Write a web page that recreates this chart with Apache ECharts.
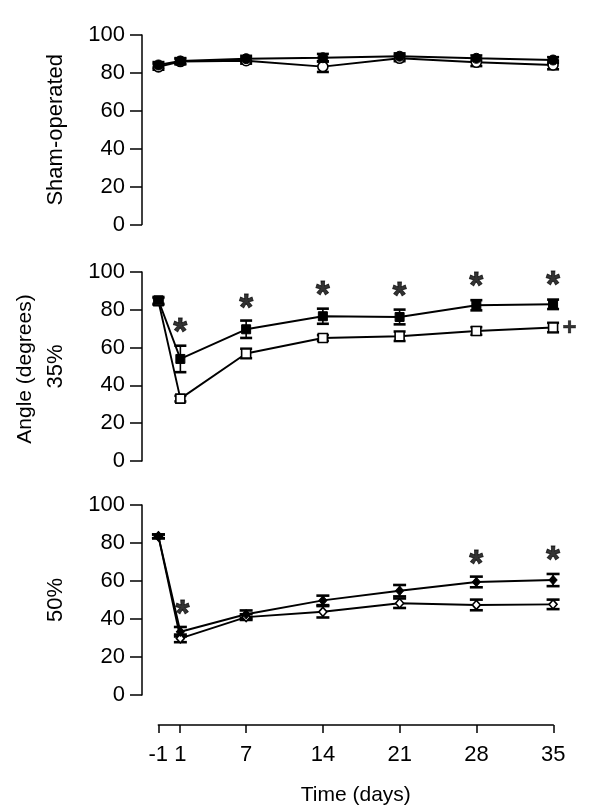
<!DOCTYPE html>
<html>
<head>
<meta charset="utf-8">
<script src="https://cdn.jsdelivr.net/npm/echarts@6/dist/echarts.min.js"></script>
<style>html,body{margin:0;padding:0;background:#fff}#c{width:600px;height:812px}</style>
</head>
<body>
<div id="c"></div>
<script>
// ---- data ----
const days = [-1, 1, 7, 14, 21, 28, 35];
const xTicks = [-1, 1, 7, 14, 21, 28, 35];

// Sham-operated
const shamFilled    = [84.2, 86.3, 87.5, 88.0, 88.8, 87.7, 86.8];
const shamFilledErr = [1.5, 1.5, 1.5, 2.0, 1.5, 1.5, 1.5];
const shamOpen      = [83.2, 86.0, 86.4, 83.3, 87.7, 85.6, 84.2];
const shamOpenErr   = [1.5, 1.5, 1.5, 2.8, 1.5, 2.0, 2.3];

// 35%
const p35Filled    = [85.0, 54.0, 69.7, 76.6, 76.2, 82.4, 82.9];
const p35FilledErr = [1.8, 7.0, 4.6, 4.0, 3.9, 2.7, 2.5];
const p35Open      = [84.5, 33.0, 56.9, 65.1, 66.0, 68.8, 70.6];
const p35OpenErr   = [1.8, 1.5, 2.5, 1.5, 2.5, 2.0, 2.5];

// 50%
const p50Filled    = [83.5, 33.3, 42.5, 49.8, 54.9, 59.5, 60.5];
const p50FilledErr = [1.0, 2.5, 2.0, 2.5, 3.0, 2.8, 3.2];
const p50Open      = [83.5, 29.8, 41.0, 43.8, 48.3, 47.4, 47.7];
const p50OpenErr   = [1.0, 2.0, 1.5, 3.0, 2.5, 2.8, 2.5];

// significance marks: [day, value, text]
const p35Marks = [[1, 71.5, '*'], [7, 84, '*'], [14, 91, '*'], [21, 90.3, '*'], [28, 95.6, '*'], [35, 96, '*']];
const p35Plus  = [[36.5, 70.6, '+']];
const p50Marks = [[1.2, 45.6, '*'], [28, 72, '*'], [35, 74, '*']];
const p50Plus  = [[37.3, 47.7, '++']];

const panelTitles = ['Sham-operated', '35%', '50%'];
const yTitle = 'Angle (degrees)';
const xTitle = 'Time (days)';

// ---- chart ----
const FONT = '"Liberation Sans", Arial, Helvetica, sans-serif';
const chart = echarts.init(document.getElementById('c'), null, {renderer: 'canvas'});

const panelTops = [35, 272, 505];
const panelH = [189.5, 189, 190];

const grids = panelTops.map((t, i) => ({left: 142, width: 433, top: t, height: panelH[i]}));
grids.push({left: 158.3, width: 395, top: 695, height: 30});

const xAxes = [0, 1, 2].map(i => ({gridIndex: i, type: 'value', min: -2.5, max: 37, show: false}));
xAxes.push({
  gridIndex: 3, type: 'value', min: -1, max: 35, position: 'bottom',
  axisLine: {show: true, onZero: false, lineStyle: {color: '#000', width: 1.5}},
  axisTick: {show: true, length: 8, customValues: xTicks, lineStyle: {color: '#000', width: 1.5}},
  axisLabel: {customValues: xTicks, color: '#000', fontSize: 22, fontFamily: FONT, margin: 19},
  splitLine: {show: false},
  name: xTitle, nameLocation: 'middle', nameGap: 60,
  nameTextStyle: {color: '#000', fontSize: 21, fontFamily: FONT}
});

const yAxes = [0, 1, 2].map(i => ({
  gridIndex: i, type: 'value', min: 0, max: 100, interval: 20,
  axisLine: {show: true, onZero: false, lineStyle: {color: '#000', width: 1.5}},
  axisTick: {show: true, length: 12, inside: false, lineStyle: {color: '#000', width: 1.5}},
  axisLabel: {color: '#000', fontSize: 22, fontFamily: FONT, margin: 17},
  splitLine: {show: false},
  name: panelTitles[i], nameLocation: 'middle', nameGap: 75,
  nameTextStyle: {color: '#000', fontSize: 22, fontFamily: FONT}
}));
yAxes.push({gridIndex: 3, type: 'value', show: false, min: 0, max: 1});

function lineSeries(idx, vals, symbol, filled, size) {
  return {
    type: 'line', xAxisIndex: idx, yAxisIndex: idx, z: 3,
    data: days.map((d, i) => [d, vals[i]]),
    symbol: symbol, symbolSize: size, showSymbol: true,
    lineStyle: {color: '#000', width: 1.9},
    itemStyle: filled ? {color: '#000', borderColor: '#000', borderWidth: 1}
                      : {color: '#fff', borderColor: '#000', borderWidth: 1.6},
    emphasis: {disabled: true}, animation: false
  };
}

function errSeries(idx, vals, errs, capW) {
  return {
    type: 'custom', xAxisIndex: idx, yAxisIndex: idx, z: 2,
    data: days.map((d, i) => [d, vals[i] - errs[i], vals[i] + errs[i]]),
    encode: {x: 0, y: [1, 2]},
    renderItem: function (params, api) {
      const x = api.value(0);
      const lo = api.coord([x, api.value(1)]);
      const hi = api.coord([x, api.value(2)]);
      const hw = capW / 2;
      return {type: 'group', children: [
        {type: 'line', shape: {x1: lo[0], y1: lo[1], x2: hi[0], y2: hi[1]}, style: {stroke: '#000', lineWidth: 1.6}},
        {type: 'line', shape: {x1: lo[0] - hw, y1: lo[1], x2: lo[0] + hw, y2: lo[1]}, style: {stroke: '#000', lineWidth: 2.6}},
        {type: 'line', shape: {x1: hi[0] - hw, y1: hi[1], x2: hi[0] + hw, y2: hi[1]}, style: {stroke: '#000', lineWidth: 2.6}}
      ]};
    },
    animation: false
  };
}

function markSeries(idx, marks, fontSize, dy, stroke) {
  return {
    type: 'scatter', xAxisIndex: idx, yAxisIndex: idx, z: 4,
    data: marks, symbolSize: 0, silent: true,
    itemStyle: {color: '#000'},
    label: {show: true, position: 'inside', formatter: p => p.value[2],
            color: '#000', textBorderWidth: stroke, textBorderColor: '#000',
            fontSize: fontSize, fontWeight: 'bold', fontFamily: FONT, offset: [0, dy]},
    animation: false
  };
}

const series = [
  errSeries(0, shamFilled, shamFilledErr, 12),
  errSeries(0, shamOpen, shamOpenErr, 12),
  lineSeries(0, shamOpen, 'circle', false, 10),
  lineSeries(0, shamFilled, 'circle', true, 10),

  errSeries(1, p35Filled, p35FilledErr, 12),
  errSeries(1, p35Open, p35OpenErr, 12),
  lineSeries(1, p35Open, 'rect', false, 9),
  lineSeries(1, p35Filled, 'rect', true, 9),
  markSeries(1, p35Marks, 36, 8, 0.8),
  markSeries(1, p35Plus, 24, 1, 0.5),

  errSeries(2, p50Filled, p50FilledErr, 13),
  errSeries(2, p50Open, p50OpenErr, 13),
  lineSeries(2, p50Open, 'diamond', false, [8, 9]),
  lineSeries(2, p50Filled, 'diamond', true, [8, 9]),
  markSeries(2, p50Marks, 36, 8, 0.8),
  markSeries(2, p50Plus, 24, 1, 0.5)
];

chart.setOption({
  animation: false,
  backgroundColor: '#fff',
  grid: grids,
  xAxis: xAxes,
  yAxis: yAxes,
  series: series,
  graphic: [{
    type: 'text', x: 25, y: 369, rotation: Math.PI / 2,
    style: {text: yTitle, fill: '#000', font: '21px ' + FONT, textAlign: 'center', textVerticalAlign: 'middle'}
  }]
});
</script>
</body>
</html>
